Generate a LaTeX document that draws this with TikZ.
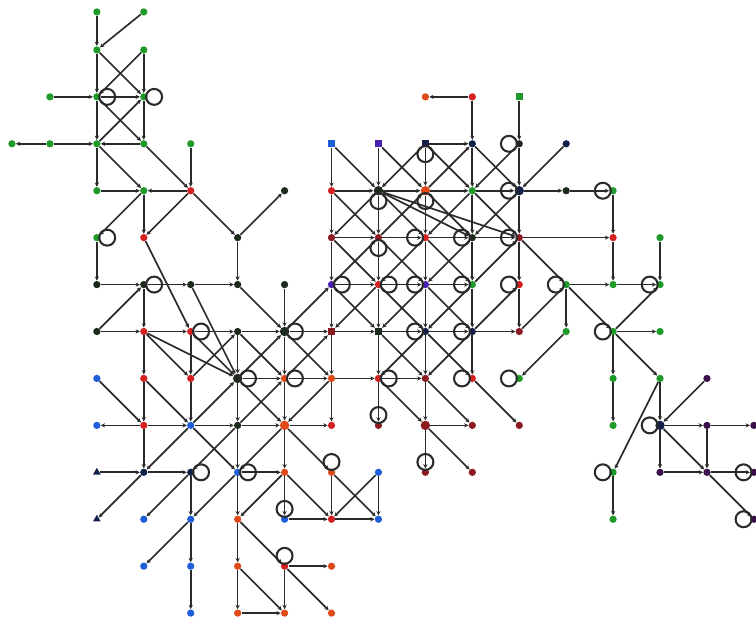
\documentclass[tikz,border=0pt]{standalone}
\usepackage{tikz}
\usetikzlibrary{arrows.meta,shapes.geometric}
\definecolor{ink}{HTML}{2A2A2A}
\definecolor{cGreen}{HTML}{1E9A28}
\definecolor{cRed}{HTML}{D42020}
\definecolor{cOrange}{HTML}{E04A18}
\definecolor{cDark}{HTML}{1C2A1C}
\definecolor{cNavy}{HTML}{15204A}
\definecolor{cBlue}{HTML}{1E5FD9}
\definecolor{cPurple}{HTML}{4B1FB0}
\definecolor{cMaroon}{HTML}{8B1A22}
\definecolor{cViolet}{HTML}{3A0F4A}
\tikzset{
  dot/.style={circle, draw=none, inner sep=0pt, minimum size=1.55mm},
}

\begin{document}
\begin{tikzpicture}[x=1cm, y=-1cm,
  gn/.style={dot, fill=cGreen}, rn/.style={dot, fill=cRed}, on/.style={dot, fill=cOrange},
  kn/.style={dot, fill=cDark}, nn/.style={dot, fill=cNavy}, bn/.style={dot, fill=cBlue},
  pn/.style={dot, fill=cPurple}, mn/.style={dot, fill=cMaroon}, vn/.style={dot, fill=cViolet},
  hub/.style={minimum size=2mm},
  sq/.style={rectangle, minimum size=1.45mm},
  tri/.style={regular polygon, regular polygon sides=3, fill=cNavy, draw=none, inner sep=0pt, minimum size=1.9mm},
  lnk/.style={-{Stealth[length=0.9mm, width=0.9mm]}, ink, line width=1pt},
  slf/.style={ink, line width=1.25pt}]
\useasboundingbox (-0.064,-0.064) rectangle (16.045,13.083);
% row 0 - 2
\node[gn] (n2-0) at (2,0.19) {}; \node[gn] (n3-0) at (3,0.19) {};
\node[gn] (n2-1) at (2,1) {}; \node[gn] (n3-1) at (3,1) {};
\node[gn] (n1-2) at (1,2) {}; \node[gn] (n2-2) at (2,2) {}; \node[gn] (n3-2) at (3,2) {};
\node[on] (n9-2) at (9,2) {}; \node[rn] (n10-2) at (10,2) {}; \node[gn, sq] (n11-2) at (11,2) {};
% row 3 - 4
\node[gn] (n0-3) at (0.19,3) {}; \node[gn] (n1-3) at (1,3) {}; \node[gn] (n2-3) at (2,3) {};
\node[gn] (n3-3) at (3,3) {}; \node[gn] (n4-3) at (4,3) {};
\node[bn, sq] (n7-3) at (7,3) {}; \node[pn, sq] (n8-3) at (8,3) {}; \node[nn, sq] (n9-3) at (9,3) {};
\node[nn] (n10-3) at (10,3) {}; \node[kn] (n11-3) at (11,3) {}; \node[nn] (n12-3) at (12,3) {};
\node[gn] (n2-4) at (2,4) {}; \node[gn] (n3-4) at (3,4) {}; \node[rn] (n4-4) at (4,4) {};
\node[kn] (n6-4) at (6,4) {}; \node[rn] (n7-4) at (7,4) {}; \node[kn, hub] (n8-4) at (8,4) {};
\node[on, hub] (n9-4) at (9,4) {}; \node[gn] (n10-4) at (10,4) {}; \node[nn, hub] (n11-4) at (11,4) {};
\node[kn] (n12-4) at (12,4) {}; \node[gn] (n13-4) at (13,4) {};
% row 5 - 6
\node[gn] (n2-5) at (2,5) {}; \node[rn] (n3-5) at (3,5) {}; \node[kn] (n5-5) at (5,5) {};
\node[mn] (n7-5) at (7,5) {}; \node[mn] (n8-5) at (8,5) {}; \node[rn] (n9-5) at (9,5) {};
\node[kn] (n10-5) at (10,5) {}; \node[mn] (n11-5) at (11,5) {}; \node[rn] (n13-5) at (13,5) {};
\node[gn] (n14-5) at (14,5) {};
\node[kn] (n2-6) at (2,6) {}; \node[kn] (n3-6) at (3,6) {}; \node[kn] (n4-6) at (4,6) {};
\node[kn] (n5-6) at (5,6) {}; \node[kn] (n6-6) at (6,6) {}; \node[pn] (n7-6) at (7,6) {};
\node[rn] (n8-6) at (8,6) {}; \node[pn] (n9-6) at (9,6) {}; \node[gn] (n10-6) at (10,6) {};
\node[rn] (n11-6) at (11,6) {}; \node[gn] (n12-6) at (12,6) {}; \node[gn] (n13-6) at (13,6) {};
\node[gn] (n14-6) at (14,6) {};
% row 7 - 8
\node[kn] (n2-7) at (2,7) {}; \node[rn] (n3-7) at (3,7) {}; \node[rn] (n4-7) at (4,7) {};
\node[kn] (n5-7) at (5,7) {}; \node[kn, hub] (n6-7) at (6,7) {}; \node[mn, sq] (n7-7) at (7,7) {};
\node[kn, sq] (n8-7) at (8,7) {}; \node[nn] (n9-7) at (9,7) {}; \node[nn] (n10-7) at (10,7) {};
\node[mn] (n11-7) at (11,7) {}; \node[gn] (n12-7) at (12,7) {}; \node[gn] (n13-7) at (13,7) {};
\node[gn] (n14-7) at (14,7) {};
\node[bn] (n2-8) at (2,8) {}; \node[rn] (n3-8) at (3,8) {}; \node[rn] (n4-8) at (4,8) {};
\node[kn, hub] (n5-8) at (5,8) {}; \node[on] (n6-8) at (6,8) {}; \node[on] (n7-8) at (7,8) {};
\node[rn] (n8-8) at (8,8) {}; \node[mn] (n9-8) at (9,8) {}; \node[rn] (n10-8) at (10,8) {};
\node[gn] (n11-8) at (11,8) {}; \node[gn] (n13-8) at (13,8) {}; \node[gn] (n14-8) at (14,8) {};
\node[vn] (n15-8) at (15,8) {};
% row 9 - 10
\node[bn] (n2-9) at (2,9) {}; \node[rn] (n3-9) at (3,9) {}; \node[bn] (n4-9) at (4,9) {};
\node[kn] (n5-9) at (5,9) {}; \node[on, hub] (n6-9) at (6,9) {}; \node[rn] (n7-9) at (7,9) {};
\node[mn] (n8-9) at (8,9) {}; \node[mn, hub] (n9-9) at (9,9) {}; \node[mn] (n10-9) at (10,9) {};
\node[mn] (n11-9) at (11,9) {}; \node[gn] (n13-9) at (13,9) {}; \node[nn, hub] (n14-9) at (14,9) {};
\node[vn] (n15-9) at (15,9) {}; \node[vn] (n16-9) at (16,9) {};
\node[tri] (n2-10) at (2,10) {}; \node[nn] (n3-10) at (3,10) {}; \node[nn] (n4-10) at (4,10) {};
\node[bn] (n5-10) at (5,10) {}; \node[on] (n6-10) at (6,10) {}; \node[on] (n7-10) at (7,10) {};
\node[bn] (n8-10) at (8,10) {}; \node[mn] (n9-10) at (9,10) {}; \node[mn] (n10-10) at (10,10) {};
\node[gn] (n13-10) at (13,10) {}; \node[vn] (n14-10) at (14,10) {}; \node[vn] (n15-10) at (15,10) {};
\node[vn] (n16-10) at (16,10) {};
% row 11 - 13
\node[tri] (n2-11) at (2,11) {}; \node[bn] (n3-11) at (3,11) {}; \node[bn] (n4-11) at (4,11) {};
\node[on] (n5-11) at (5,11) {}; \node[bn] (n6-11) at (6,11) {}; \node[rn] (n7-11) at (7,11) {};
\node[bn] (n8-11) at (8,11) {}; \node[gn] (n13-11) at (13,11) {}; \node[vn] (n16-11) at (16,11) {};
\node[bn] (n3-12) at (3,12) {}; \node[bn] (n4-12) at (4,12) {}; \node[on] (n5-12) at (5,12) {};
\node[rn] (n6-12) at (6,12) {}; \node[on] (n7-12) at (7,12) {};
\node[bn] (n4-13) at (4,13) {}; \node[on] (n5-13) at (5,13) {}; \node[on] (n6-13) at (6,13) {};
\node[on] (n7-13) at (7,13) {};
% self loops
\draw[slf] (n2-2) ++(0:0.22cm) circle[radius=0.17cm]; \draw[slf] (n3-2) ++(0:0.22cm) circle[radius=0.17cm];
\draw[slf] (n9-3) ++(-90:0.22cm) circle[radius=0.17cm]; \draw[slf] (n11-3) ++(180:0.22cm) circle[radius=0.17cm];
\draw[slf] (n8-4) ++(-90:0.22cm) circle[radius=0.17cm]; \draw[slf] (n9-4) ++(-90:0.22cm) circle[radius=0.17cm];
\draw[slf] (n11-4) ++(180:0.22cm) circle[radius=0.17cm]; \draw[slf] (n13-4) ++(180:0.22cm) circle[radius=0.17cm];
\draw[slf] (n2-5) ++(0:0.22cm) circle[radius=0.17cm]; \draw[slf] (n8-5) ++(-90:0.22cm) circle[radius=0.17cm];
\draw[slf] (n9-5) ++(180:0.22cm) circle[radius=0.17cm]; \draw[slf] (n10-5) ++(180:0.22cm) circle[radius=0.17cm];
\draw[slf] (n11-5) ++(180:0.22cm) circle[radius=0.17cm]; \draw[slf] (n3-6) ++(0:0.22cm) circle[radius=0.17cm];
\draw[slf] (n7-6) ++(0:0.22cm) circle[radius=0.17cm]; \draw[slf] (n8-6) ++(0:0.22cm) circle[radius=0.17cm];
\draw[slf] (n9-6) ++(180:0.22cm) circle[radius=0.17cm]; \draw[slf] (n10-6) ++(180:0.22cm) circle[radius=0.17cm];
\draw[slf] (n11-6) ++(180:0.22cm) circle[radius=0.17cm]; \draw[slf] (n12-6) ++(180:0.22cm) circle[radius=0.17cm];
\draw[slf] (n14-6) ++(180:0.22cm) circle[radius=0.17cm]; \draw[slf] (n4-7) ++(0:0.22cm) circle[radius=0.17cm];
\draw[slf] (n6-7) ++(0:0.22cm) circle[radius=0.17cm]; \draw[slf] (n9-7) ++(180:0.22cm) circle[radius=0.17cm];
\draw[slf] (n10-7) ++(180:0.22cm) circle[radius=0.17cm]; \draw[slf] (n13-7) ++(180:0.22cm) circle[radius=0.17cm];
\draw[slf] (n5-8) ++(0:0.22cm) circle[radius=0.17cm]; \draw[slf] (n6-8) ++(0:0.22cm) circle[radius=0.17cm];
\draw[slf] (n8-8) ++(0:0.22cm) circle[radius=0.17cm]; \draw[slf] (n10-8) ++(180:0.22cm) circle[radius=0.17cm];
\draw[slf] (n11-8) ++(180:0.22cm) circle[radius=0.17cm]; \draw[slf] (n8-9) ++(90:0.22cm) circle[radius=0.17cm];
\draw[slf] (n14-9) ++(180:0.22cm) circle[radius=0.17cm]; \draw[slf] (n4-10) ++(0:0.22cm) circle[radius=0.17cm];
\draw[slf] (n5-10) ++(0:0.22cm) circle[radius=0.17cm]; \draw[slf] (n7-10) ++(90:0.22cm) circle[radius=0.17cm];
\draw[slf] (n9-10) ++(90:0.22cm) circle[radius=0.17cm]; \draw[slf] (n13-10) ++(180:0.22cm) circle[radius=0.17cm];
\draw[slf] (n16-10) ++(180:0.22cm) circle[radius=0.17cm]; \draw[slf] (n6-11) ++(90:0.22cm) circle[radius=0.17cm];
\draw[slf] (n16-11) ++(180:0.22cm) circle[radius=0.17cm]; \draw[slf] (n6-12) ++(90:0.22cm) circle[radius=0.17cm];
% top left block
\draw[lnk] (n3-0) -- (n2-1); \draw[lnk] (n2-0) -- (n2-1); \draw[lnk] (n2-1) -- (n2-2); \draw[lnk] (n2-2) -- (n2-3);
\draw[lnk] (n2-3) -- (n2-4); \draw[lnk] (n3-1) -- (n3-2); \draw[lnk] (n3-2) -- (n3-3);
\draw[lnk] (n2-1) -- (n3-2); \draw[lnk] (n3-1) -- (n2-2); \draw[lnk] (n2-2) -- (n3-3); \draw[lnk] (n2-3) -- (n3-2);
\draw[lnk] (n1-2) -- (n2-2); \draw[lnk] (n2-2) -- (n3-2);
\draw[lnk] (n1-3) -- (n0-3); \draw[lnk] (n1-3) -- (n2-3); \draw[lnk] (n3-3) -- (n2-3);
\draw[lnk] (n2-3) -- (n3-4); \draw[lnk] (n3-3) -- (n4-4); \draw[lnk] (n4-3) -- (n4-4);
\draw[lnk] (n2-4) -- (n3-4); \draw[lnk] (n4-4) -- (n3-4);
% left side
\draw[lnk] (n3-4) -- (n2-5); \draw[lnk] (n3-4) -- (n3-5); \draw[lnk] (n4-4) -- (n3-5); \draw[lnk] (n4-4) -- (n5-5);
\draw[lnk] (n5-5) -- (n6-4); \draw[lnk] (n2-5) -- (n2-6); \draw[lnk] (n2-6) -- (n3-6); \draw[lnk] (n3-6) -- (n4-6);
\draw[lnk] (n4-6) -- (n5-6); \draw[lnk] (n5-5) -- (n5-6); \draw[lnk] (n2-7) -- (n3-6); \draw[lnk] (n3-6) -- (n3-7);
\draw[lnk] (n3-7) -- (n3-8); \draw[lnk] (n3-8) -- (n3-9); \draw[lnk] (n3-9) -- (n3-10);
\draw[lnk] (n2-7) -- (n3-7); \draw[lnk] (n3-7) -- (n4-7); \draw[lnk] (n4-7) -- (n5-7); \draw[lnk] (n5-7) -- (n6-7);
\draw[lnk] (n3-5) -- (n4-7); \draw[lnk] (n4-6) -- (n5-8); \draw[lnk] (n3-7) -- (n4-8); \draw[lnk] (n3-7) -- (n5-8);
\draw[lnk] (n4-8) -- (n5-7); \draw[lnk] (n4-7) -- (n5-8); \draw[lnk] (n4-7) -- (n4-8); \draw[lnk] (n4-8) -- (n4-9);
\draw[lnk] (n5-7) -- (n5-8); \draw[lnk] (n5-8) -- (n5-9); \draw[lnk] (n5-6) -- (n6-7);
\draw[lnk] (n2-8) -- (n3-9); \draw[lnk] (n3-8) -- (n4-9); \draw[lnk] (n4-9) -- (n5-8);
\draw[lnk] (n3-9) -- (n2-9); \draw[lnk] (n3-9) -- (n4-9); \draw[lnk] (n4-9) -- (n5-9); \draw[lnk] (n5-9) -- (n6-9);
\draw[lnk] (n6-9) -- (n7-9); \draw[lnk] (n4-9) -- (n3-10); \draw[lnk] (n3-10) -- (n2-11); \draw[lnk] (n4-9) -- (n5-10);
\draw[lnk] (n5-9) -- (n4-10); \draw[lnk] (n4-10) -- (n3-11); \draw[lnk] (n5-10) -- (n4-11); \draw[lnk] (n4-11) -- (n3-12);
\draw[lnk] (n2-10) -- (n3-10); \draw[lnk] (n3-10) -- (n4-10); \draw[lnk] (n4-10) -- (n4-11); \draw[lnk] (n4-11) -- (n4-12);
\draw[lnk] (n4-12) -- (n4-13); \draw[lnk] (n5-9) -- (n5-10); \draw[lnk] (n5-10) -- (n5-11); \draw[lnk] (n5-11) -- (n5-12);
\draw[lnk] (n5-12) -- (n5-13); \draw[lnk] (n5-9) -- (n6-8);
% lower middle
\draw[lnk] (n5-10) -- (n6-10); \draw[lnk] (n6-10) -- (n5-11); \draw[lnk] (n5-11) -- (n6-12); \draw[lnk] (n5-12) -- (n6-13);
\draw[lnk] (n5-13) -- (n6-13); \draw[lnk] (n5-8) -- (n6-9); \draw[lnk] (n7-8) -- (n6-9); \draw[lnk] (n6-9) -- (n5-10);
\draw[lnk] (n6-9) -- (n7-10); \draw[lnk] (n7-10) -- (n8-11); \draw[lnk] (n6-8) -- (n6-9); \draw[lnk] (n6-9) -- (n6-10);
\draw[lnk] (n6-10) -- (n6-11); \draw[lnk] (n6-10) -- (n7-11); \draw[lnk] (n7-10) -- (n7-11); \draw[lnk] (n8-10) -- (n7-11);
\draw[lnk] (n8-10) -- (n8-11); \draw[lnk] (n6-11) -- (n7-11); \draw[lnk] (n7-11) -- (n8-11);
\draw[lnk] (n6-12) -- (n7-12); \draw[lnk] (n6-12) -- (n6-13); \draw[lnk] (n6-12) -- (n7-13); \draw[lnk] (n7-8) -- (n7-9);
% centre
\draw[lnk] (n5-8) -- (n6-8); \draw[lnk] (n6-8) -- (n7-8); \draw[lnk] (n7-8) -- (n8-8); \draw[lnk] (n8-8) -- (n9-8);
\draw[lnk] (n6-6) -- (n6-7); \draw[lnk] (n6-7) -- (n6-8); \draw[lnk] (n5-8) -- (n6-7); \draw[lnk] (n6-7) -- (n7-6);
\draw[lnk] (n7-6) -- (n8-5); \draw[lnk] (n8-5) -- (n9-4); \draw[lnk] (n9-4) -- (n10-3);
\draw[lnk] (n5-7) -- (n6-8); \draw[lnk] (n6-8) -- (n7-7); \draw[lnk] (n6-7) -- (n7-8); \draw[lnk] (n6-7) -- (n7-7);
% dense block, rows 2 - 4
\draw[lnk] (n10-2) -- (n9-2); \draw[lnk] (n10-2) -- (n10-3); \draw[lnk] (n11-2) -- (n11-3); \draw[lnk] (n11-3) -- (n11-4);
\draw[lnk] (n12-3) -- (n11-4); \draw[lnk] (n9-3) -- (n10-3);
\draw[lnk] (n7-3) -- (n7-4); \draw[lnk] (n8-3) -- (n8-4); \draw[lnk] (n9-3) -- (n9-4); \draw[lnk] (n10-3) -- (n10-4);
\draw[lnk] (n7-3) -- (n8-4); \draw[lnk] (n8-3) -- (n9-4); \draw[lnk] (n9-3) -- (n8-4); \draw[lnk] (n9-3) -- (n10-4);
\draw[lnk] (n11-3) -- (n10-4); \draw[lnk] (n10-3) -- (n11-4);
\draw[lnk] (n7-4) -- (n8-4); \draw[lnk] (n8-4) -- (n9-4); \draw[lnk] (n9-4) -- (n10-4); \draw[lnk] (n10-4) -- (n11-4);
\draw[lnk] (n11-4) -- (n12-4); \draw[lnk] (n12-4) -- (n13-4);
% rows 4 - 5
\draw[lnk] (n7-4) -- (n7-5); \draw[lnk] (n8-4) -- (n8-5); \draw[lnk] (n9-4) -- (n9-5); \draw[lnk] (n10-4) -- (n10-5);
\draw[lnk] (n11-4) -- (n11-5); \draw[lnk] (n13-4) -- (n13-5);
\draw[lnk] (n7-4) -- (n8-5); \draw[lnk] (n8-4) -- (n7-5); \draw[lnk] (n8-4) -- (n9-5); \draw[lnk] (n9-4) -- (n10-5);
\draw[lnk] (n10-4) -- (n9-5); \draw[lnk] (n10-4) -- (n11-5); \draw[lnk] (n11-4) -- (n10-5);
\draw[lnk] (n8-4) -- (n10-5); \draw[lnk] (n8-4) -- (n11-5);
\draw[lnk] (n7-5) -- (n8-5); \draw[lnk] (n8-5) -- (n9-5); \draw[lnk] (n9-5) -- (n10-5); \draw[lnk] (n10-5) -- (n11-5);
\draw[lnk] (n11-5) -- (n13-5);
% rows 5 - 6
\draw[lnk] (n7-5) -- (n7-6); \draw[lnk] (n8-5) -- (n8-6); \draw[lnk] (n9-5) -- (n9-6); \draw[lnk] (n10-5) -- (n10-6);
\draw[lnk] (n11-5) -- (n11-6); \draw[lnk] (n13-5) -- (n13-6); \draw[lnk] (n14-5) -- (n14-6);
\draw[lnk] (n7-5) -- (n8-6); \draw[lnk] (n8-5) -- (n9-6); \draw[lnk] (n9-5) -- (n8-6); \draw[lnk] (n9-5) -- (n10-6);
\draw[lnk] (n10-5) -- (n9-6); \draw[lnk] (n10-6) -- (n11-5); \draw[lnk] (n11-5) -- (n12-6);
\draw[lnk] (n7-6) -- (n8-6); \draw[lnk] (n8-6) -- (n9-6); \draw[lnk] (n9-6) -- (n10-6);
\draw[lnk] (n12-6) -- (n13-6); \draw[lnk] (n13-6) -- (n14-6);
% rows 6 - 7
\draw[lnk] (n7-6) -- (n7-7); \draw[lnk] (n8-6) -- (n8-7); \draw[lnk] (n9-6) -- (n9-7); \draw[lnk] (n10-6) -- (n10-7);
\draw[lnk] (n11-6) -- (n11-7); \draw[lnk] (n12-6) -- (n12-7);
\draw[lnk] (n7-6) -- (n8-7); \draw[lnk] (n8-6) -- (n7-7); \draw[lnk] (n8-6) -- (n9-7); \draw[lnk] (n9-6) -- (n8-7);
\draw[lnk] (n9-6) -- (n10-7); \draw[lnk] (n10-6) -- (n9-7); \draw[lnk] (n10-7) -- (n11-6); \draw[lnk] (n11-7) -- (n12-6);
\draw[lnk] (n12-6) -- (n13-7);
\draw[lnk] (n7-7) -- (n8-7); \draw[lnk] (n8-7) -- (n9-7); \draw[lnk] (n9-7) -- (n10-7); \draw[lnk] (n10-7) -- (n11-7);
\draw[lnk] (n13-7) -- (n14-7);
% rows 7 - 9
\draw[lnk] (n7-7) -- (n7-8); \draw[lnk] (n8-7) -- (n8-8); \draw[lnk] (n9-7) -- (n9-8); \draw[lnk] (n10-7) -- (n10-8);
\draw[lnk] (n13-7) -- (n13-8);
\draw[lnk] (n8-7) -- (n9-8); \draw[lnk] (n9-7) -- (n8-8); \draw[lnk] (n9-7) -- (n10-8); \draw[lnk] (n10-7) -- (n9-8);
\draw[lnk] (n12-7) -- (n11-8); \draw[lnk] (n13-7) -- (n14-8); \draw[lnk] (n13-7) -- (n14-6);
\draw[lnk] (n8-8) -- (n8-9); \draw[lnk] (n9-8) -- (n9-9); \draw[lnk] (n8-8) -- (n9-9); \draw[lnk] (n9-8) -- (n10-9);
\draw[lnk] (n10-8) -- (n11-9); \draw[lnk] (n13-8) -- (n13-9); \draw[lnk] (n14-8) -- (n14-9); \draw[lnk] (n15-8) -- (n14-9);
\draw[lnk] (n14-8) -- (n13-10);
\draw[lnk] (n9-9) -- (n10-9); \draw[lnk] (n9-9) -- (n9-10); \draw[lnk] (n9-9) -- (n10-10);
% right block
\draw[lnk] (n14-9) -- (n15-9); \draw[lnk] (n15-9) -- (n16-9); \draw[lnk] (n14-9) -- (n14-10); \draw[lnk] (n15-9) -- (n15-10);
\draw[lnk] (n14-10) -- (n15-10); \draw[lnk] (n15-10) -- (n16-10); \draw[lnk] (n14-9) -- (n15-10); \draw[lnk] (n15-10) -- (n16-11);
\draw[lnk] (n13-10) -- (n13-11);
\end{tikzpicture}
\end{document}
